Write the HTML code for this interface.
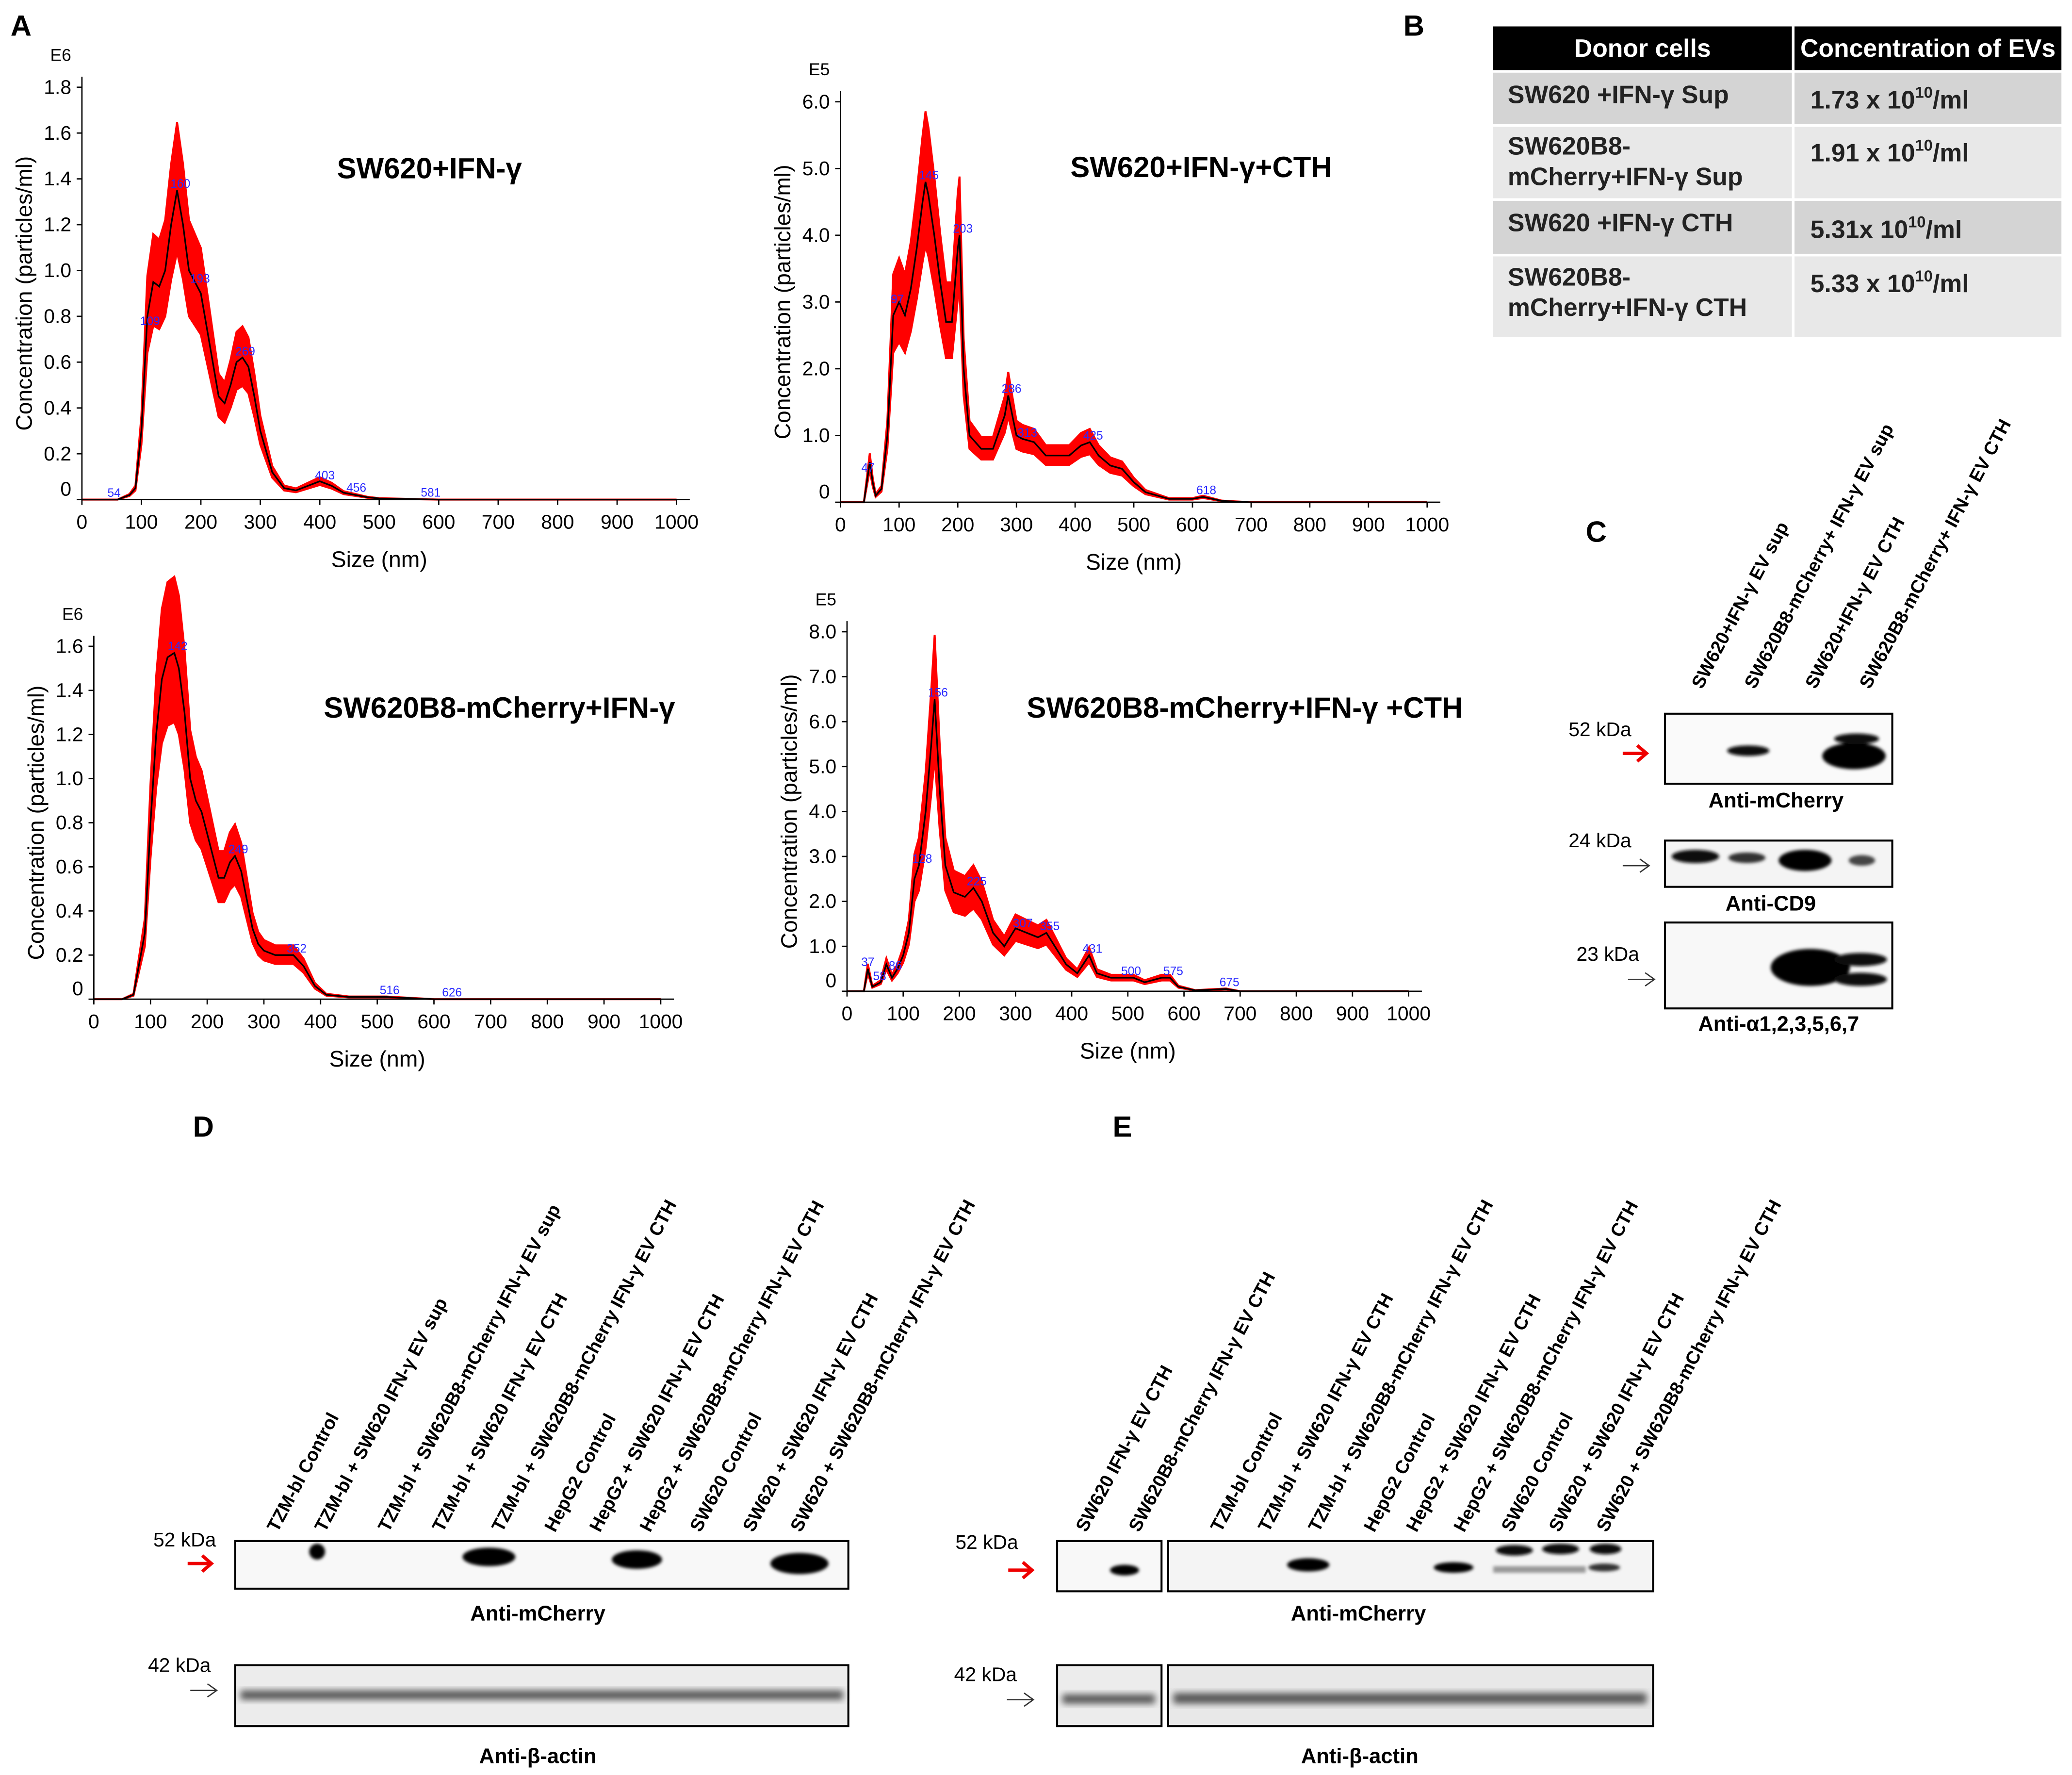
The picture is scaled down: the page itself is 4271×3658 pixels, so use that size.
<!DOCTYPE html>
<html><head><meta charset="utf-8"><style>
html,body{margin:0;padding:0;background:#fff;}
svg{display:block;font-family:"Liberation Sans",sans-serif;}
</style></head><body>
<svg id="fig" xmlns="http://www.w3.org/2000/svg" width="4271" height="3658" viewBox="0 0 1568 1343" preserveAspectRatio="none">
<defs>
<filter id="blur" x="-50%" y="-50%" width="200%" height="200%"><feGaussianBlur stdDeviation="2.5"/></filter>
<filter id="blur2" x="-50%" y="-50%" width="200%" height="200%"><feGaussianBlur stdDeviation="1.2"/></filter>
</defs>
<g id="charts"></g>
<text x="8" y="27" font-size="22" font-weight="bold">A</text>
<text x="1062" y="27" font-size="22" font-weight="bold">B</text>
<text x="1200" y="410" font-size="22" font-weight="bold">C</text>
<text x="146" y="860" font-size="22" font-weight="bold">D</text>
<text x="842" y="860" font-size="22" font-weight="bold">E</text>

<g font-weight="bold" font-size="19">
<rect x="1130" y="20" width="430" height="33" fill="#000"/>
<line x1="1357" y1="20" x2="1357" y2="53" stroke="#fff" stroke-width="2"/>
<text x="1243" y="43" fill="#fff" text-anchor="middle">Donor cells</text>
<text x="1459" y="43" fill="#fff" text-anchor="middle">Concentration of EVs</text>
<rect x="1130" y="55" width="226" height="39" fill="#d4d4d4"/><rect x="1358" y="55" width="202" height="39" fill="#d4d4d4"/>
<rect x="1130" y="96" width="226" height="54" fill="#e8e8e8"/><rect x="1358" y="96" width="202" height="54" fill="#e8e8e8"/>
<rect x="1130" y="152" width="226" height="40" fill="#d4d4d4"/><rect x="1358" y="152" width="202" height="40" fill="#d4d4d4"/>
<rect x="1130" y="194" width="226" height="61" fill="#e8e8e8"/><rect x="1358" y="194" width="202" height="61" fill="#e8e8e8"/>
<g fill="#222">
<text x="1141" y="78">SW620 +IFN-γ Sup</text>
<text x="1141" y="117">SW620B8-</text><text x="1141" y="140">mCherry+IFN-γ Sup</text>
<text x="1141" y="175">SW620 +IFN-γ  CTH</text>
<text x="1141" y="216">SW620B8-</text><text x="1141" y="239">mCherry+IFN-γ CTH</text>
<text x="1370" y="82">1.73 x 10<tspan font-size="12" dy="-8">10</tspan><tspan dy="8">/ml</tspan></text>
<text x="1370" y="122">1.91 x 10<tspan font-size="12" dy="-8">10</tspan><tspan dy="8">/ml</tspan></text>
<text x="1370" y="180">5.31x 10<tspan font-size="12" dy="-8">10</tspan><tspan dy="8">/ml</tspan></text>
<text x="1370" y="221">5.33 x 10<tspan font-size="12" dy="-8">10</tspan><tspan dy="8">/ml</tspan></text>
</g></g>

<g font-size="15">
<g font-weight="bold" font-size="14">
<text transform="translate(1288,522) rotate(-62)">SW620+IFN-γ EV sup</text>
<text transform="translate(1328,522) rotate(-62)">SW620B8-mCherry+ IFN-γ EV sup</text>
<text transform="translate(1374,522) rotate(-62)">SW620+IFN-γ EV CTH</text>
<text transform="translate(1415,522) rotate(-62)">SW620B8-mCherry+ IFN-γ EV CTH</text>
</g>
<text x="1187" y="557">52 kDa</text>
<text x="1187" y="641">24 kDa</text>
<text x="1193" y="727">23 kDa</text>
<path d="M1228,570 h18 m-7,-6 l7,6 l-7,6" stroke="#e00" stroke-width="2.5" fill="none"/>
<path d="M1228,655 h20 m-7,-5 l7,5 l-7,5" stroke="#333" stroke-width="1" fill="none"/>
<path d="M1232,741 h20 m-7,-5 l7,5 l-7,5" stroke="#333" stroke-width="1" fill="none"/>
<rect x="1260" y="540" width="172" height="53" fill="#fafafa" stroke="#000" stroke-width="1.5"/>
<g filter="url(#blur2)"><ellipse cx="1323" cy="568" rx="16" ry="4" fill="#111"/><ellipse cx="1403" cy="572" rx="24" ry="10" fill="#000"/><ellipse cx="1405" cy="559" rx="17" ry="4" fill="#111"/></g>
<rect x="1260" y="636" width="172" height="35" fill="#f4f4f4" stroke="#000" stroke-width="1.5"/>
<g filter="url(#blur2)"><ellipse cx="1283" cy="648" rx="18" ry="5" fill="#111"/><ellipse cx="1322" cy="649" rx="14" ry="4" fill="#333"/><ellipse cx="1366" cy="651" rx="20" ry="8" fill="#000"/><ellipse cx="1409" cy="651" rx="10" ry="4" fill="#444"/></g>
<rect x="1260" y="698" width="172" height="65" fill="#f8f8f8" stroke="#000" stroke-width="1.5"/>
<g filter="url(#blur2)"><ellipse cx="1370" cy="732" rx="30" ry="14" fill="#000"/><ellipse cx="1408" cy="726" rx="20" ry="5" fill="#111"/><ellipse cx="1408" cy="741" rx="20" ry="5" fill="#111"/></g>
<g font-weight="bold" font-size="16" text-anchor="middle">
<text x="1344" y="611">Anti-mCherry</text><text x="1340" y="689">Anti-CD9</text><text x="1346" y="780">Anti-α1,2,3,5,6,7</text></g>
</g>

<g font-size="15">
<g font-weight="bold" font-size="14">
<text transform="translate(210,1160) rotate(-62)">TZM-bl Control</text>
<text transform="translate(246,1160) rotate(-62)">TZM-bl + SW620 IFN-γ EV sup</text>
<text transform="translate(294,1160) rotate(-62)">TZM-bl + SW620B8-mCherry IFN-γ EV sup</text>
<text transform="translate(335,1160) rotate(-62)">TZM-bl + SW620 IFN-γ EV CTH</text>
<text transform="translate(380,1160) rotate(-62)">TZM-bl + SW620B8-mCherry IFN-γ EV CTH</text>
<text transform="translate(420,1160) rotate(-62)">HepG2 Control</text>
<text transform="translate(454,1160) rotate(-62)">HepG2 + SW620 IFN-γ EV CTH</text>
<text transform="translate(492,1160) rotate(-62)">HepG2 + SW620B8-mCherry IFN-γ EV CTH</text>
<text transform="translate(530,1160) rotate(-62)">SW620 Control</text>
<text transform="translate(570,1160) rotate(-62)">SW620 + SW620 IFN-γ EV CTH</text>
<text transform="translate(606,1160) rotate(-62)">SW620 + SW620B8-mCherry IFN-γ EV CTH</text>
</g>
<text x="116" y="1170">52 kDa</text><text x="112" y="1265">42 kDa</text>
<path d="M142,1183 h18 m-7,-6 l7,6 l-7,6" stroke="#e00" stroke-width="2.5" fill="none"/>
<path d="M144,1279 h20 m-7,-5 l7,5 l-7,5" stroke="#333" stroke-width="1" fill="none"/>
<rect x="178" y="1166" width="464" height="36" fill="#f8f8f8" stroke="#000" stroke-width="1.5"/>
<g filter="url(#blur2)"><ellipse cx="240" cy="1174" rx="6" ry="6" fill="#000"/><ellipse cx="370" cy="1178" rx="20" ry="7" fill="#000"/><ellipse cx="482" cy="1180" rx="19" ry="7" fill="#000"/><ellipse cx="605" cy="1183" rx="22" ry="8" fill="#000"/></g>
<rect x="178" y="1260" width="464" height="46" fill="#ececec" stroke="#000" stroke-width="1.5"/>
<rect x="182" y="1279" width="456" height="7" fill="#555" filter="url(#blur)"/>
<g font-weight="bold" font-size="16" text-anchor="middle"><text x="407" y="1226">Anti-mCherry</text><text x="407" y="1334">Anti-β-actin</text></g>
</g>

<g font-size="15">
<g font-weight="bold" font-size="14">
<text transform="translate(822,1160) rotate(-62)">SW620 IFN-γ EV CTH</text>
<text transform="translate(862,1160) rotate(-62)">SW620B8-mCherry IFN-γ EV CTH</text>
<text transform="translate(924,1160) rotate(-62)">TZM-bl Control</text>
<text transform="translate(960,1160) rotate(-62)">TZM-bl + SW620 IFN-γ EV CTH</text>
<text transform="translate(998,1160) rotate(-62)">TZM-bl + SW620B8-mCherry IFN-γ EV CTH</text>
<text transform="translate(1040,1160) rotate(-62)">HepG2 Control</text>
<text transform="translate(1072,1160) rotate(-62)">HepG2 + SW620 IFN-γ EV CTH</text>
<text transform="translate(1108,1160) rotate(-62)">HepG2 + SW620B8-mCherry IFN-γ EV CTH</text>
<text transform="translate(1144,1160) rotate(-62)">SW620 Control</text>
<text transform="translate(1180,1160) rotate(-62)">SW620 + SW620 IFN-γ EV CTH</text>
<text transform="translate(1216,1160) rotate(-62)">SW620 + SW620B8-mCherry IFN-γ EV CTH</text>
</g>
<text x="723" y="1172">52 kDa</text><text x="722" y="1272">42 kDa</text>
<path d="M763,1188 h18 m-7,-6 l7,6 l-7,6" stroke="#e00" stroke-width="2.5" fill="none"/>
<path d="M762,1286 h20 m-7,-5 l7,5 l-7,5" stroke="#333" stroke-width="1" fill="none"/>
<rect x="800" y="1166" width="79" height="38" fill="#f8f8f8" stroke="#000" stroke-width="1.5"/>
<rect x="884" y="1166" width="367" height="38" fill="#f4f4f4" stroke="#000" stroke-width="1.5"/>
<g filter="url(#blur2)"><ellipse cx="851" cy="1188" rx="11" ry="4" fill="#000"/><ellipse cx="990" cy="1184" rx="16" ry="5" fill="#000"/><ellipse cx="1100" cy="1186" rx="15" ry="4" fill="#000"/>
<ellipse cx="1146" cy="1173" rx="14" ry="4" fill="#111"/><ellipse cx="1181" cy="1172" rx="14" ry="4" fill="#111"/><ellipse cx="1215" cy="1172" rx="12" ry="4" fill="#111"/><ellipse cx="1214" cy="1186" rx="12" ry="3" fill="#333"/><rect x="1130" y="1185" width="70" height="5" fill="#999"/></g>
<rect x="800" y="1260" width="79" height="46" fill="#ececec" stroke="#000" stroke-width="1.5"/>
<rect x="884" y="1260" width="367" height="46" fill="#e8e8e8" stroke="#000" stroke-width="1.5"/>
<rect x="804" y="1282" width="70" height="7" fill="#555" filter="url(#blur)"/>
<rect x="888" y="1281" width="358" height="8" fill="#555" filter="url(#blur)"/>
<g font-weight="bold" font-size="16" text-anchor="middle"><text x="1028" y="1226">Anti-mCherry</text><text x="1029" y="1334">Anti-β-actin</text></g>
</g>
</svg>
<script>
const sizes1 = [0,60,70,80,90,100,110,120,130,140,150,160,170,180,190,200,210,220,230,240,250,260,270,280,290,300,320,340,360,380,400,420,440,460,480,500,600,1000];
const conc1  = [0,0,0.01,0.02,0.05,0.3,0.8,0.95,0.93,1.0,1.2,1.35,1.2,1.0,0.95,0.9,0.75,0.6,0.45,0.42,0.5,0.6,0.62,0.58,0.45,0.3,0.12,0.05,0.04,0.06,0.08,0.06,0.03,0.02,0.01,0.005,0,0];
const peaks1 = [54,109,160,193,269,403,456,581];
const sizes2 = [0,40,50,55,60,70,80,90,100,110,120,130,140,145,150,160,170,180,190,200,203,210,220,240,260,280,286,300,310,330,350,370,390,410,425,440,460,480,500,520,560,600,618,650,700,1000];
const conc2  = [0,0,0.6,0.3,0.1,0.2,1.0,2.8,3.0,2.8,3.2,3.8,4.5,4.8,4.6,4.0,3.3,2.7,2.7,3.8,4.0,2.0,1.0,0.8,0.8,1.3,1.6,1.0,0.95,0.9,0.7,0.7,0.7,0.85,0.9,0.7,0.55,0.5,0.3,0.15,0.05,0.05,0.08,0.02,0,0];
const peaks2 = [47,97,145,203,286,313,425,618];
const sizes3 = [0,50,70,90,100,110,120,130,142,150,160,170,180,190,200,210,220,230,240,249,260,270,280,290,300,320,340,352,370,390,410,450,516,600,1000];
const conc3  = [0,0,0.02,0.3,0.8,1.2,1.45,1.55,1.57,1.5,1.3,1.0,0.9,0.85,0.75,0.65,0.55,0.55,0.62,0.65,0.58,0.45,0.32,0.25,0.22,0.2,0.2,0.2,0.15,0.06,0.02,0.01,0.01,0,0];
const peaks3 = [142,249,352,516,626];
const sizes4 = [0,30,37,45,60,70,80,90,100,110,120,128,140,150,156,165,175,190,210,225,240,260,280,300,320,340,355,370,390,410,431,445,470,490,510,530,560,575,590,620,675,700,1000];
const conc4  = [0,0,0.5,0.1,0.2,0.6,0.3,0.5,0.8,1.3,2.5,2.8,4.0,5.5,6.5,4.5,2.8,2.2,2.1,2.3,2.0,1.3,1.0,1.4,1.3,1.2,1.3,1.0,0.6,0.4,0.8,0.4,0.3,0.3,0.3,0.2,0.3,0.3,0.1,0.02,0.05,0,0];
const peaks4 = [37,58,86,128,156,225,307,355,431,500,575,675];

const yTicks1 = ["0","0.2","0.4","0.6","0.8","1.0","1.2","1.4","1.6","1.8"];
const yTicks2 = ["0","1.0","2.0","3.0","4.0","5.0","6.0"];
const yTicks3 = ["0","0.2","0.4","0.6","0.8","1.0","1.2","1.4","1.6"];
const yTicks4 = ["0","1.0","2.0","3.0","4.0","5.0","6.0","7.0","8.0"];
const xTicks = ["0","100","200","300","400","500","600","700","800","900","1000"];

const NS = "http://www.w3.org/2000/svg";
const root = document.getElementById("charts");
function mk(tag, attrs, parent){const e=document.createElementNS(NS,tag);for(const k in attrs)e.setAttribute(k,attrs[k]);parent.appendChild(e);return e;}
function interp(xs,ys,x){for(let i=1;i<xs.length;i++){if(x<=xs[i]){const t=(x-xs[i-1])/(xs[i]-xs[i-1]||1);return ys[i-1]+t*(ys[i]-ys[i-1]);}}return ys[ys.length-1];}

function chart(cfg){
  const g=mk("g",{},root);
  
  
  const X=v=>cfg.x0+(cfg.x1-cfg.x0)*v/1000;
  const Y=v=>cfg.y0-(cfg.y0-cfg.yTop)*v/cfg.ymax;
  let up="",lo="";
  for(let i=0;i<cfg.sizes.length;i++){up+=(i?"L":"M")+X(cfg.sizes[i])+","+Y(cfg.conc[i]*1.22);}
  for(let i=cfg.sizes.length-1;i>=0;i--){lo+="L"+X(cfg.sizes[i])+","+Y(cfg.conc[i]*0.8);}
  const band=mk("path",{d:up+lo+"Z",fill:"#f00",stroke:"#f00","stroke-width":"1.5"},g);
  
  
  let d="";for(let i=0;i<cfg.sizes.length;i++){d+=(i?"L":"M")+X(cfg.sizes[i])+","+Y(cfg.conc[i]);}
  const line=mk("path",{d:d,fill:"none",stroke:"#000","stroke-width":"1.2"},g);
  
  
  cfg.peaks.forEach(p=>{const t=mk("text",{x:X(p)-5,y:Y(interp(cfg.sizes,cfg.conc,p))-2,"font-size":"9",fill:"#2a2aff"},g);t.textContent=p;
    
    });
  mk("line",{x1:cfg.x0,y1:cfg.y0,x2:cfg.x1+10,y2:cfg.y0,stroke:"#000","stroke-width":"1"},g);
  mk("line",{x1:cfg.x0,y1:cfg.y0,x2:cfg.x0,y2:cfg.yTop-8,stroke:"#000","stroke-width":"1"},g);
  xTicks.forEach((t,i)=>{const x=X(i*100);mk("line",{x1:x,y1:cfg.y0,x2:x,y2:cfg.y0+4,stroke:"#000"},g);
    const tx=mk("text",{x:x,y:cfg.y0+22,"font-size":"15","text-anchor":"middle"},g);tx.textContent=t;
    
    });
  const step=cfg.ymax/(cfg.yticks.length-1);
  cfg.yticks.forEach((t,i)=>{const y=Y(i*step);mk("line",{x1:cfg.x0-4,y1:y,x2:cfg.x0,y2:y,stroke:"#000"},g);
    const ty=mk("text",{x:cfg.x0-8,y:y+(i==0?-3:5),"font-size":"15","text-anchor":"end"},g);ty.textContent=t;
    
    });
  const ex=mk("text",{x:cfg.x0-24,y:cfg.yTop-20,"font-size":"13"},g);ex.textContent=cfg.exp;
  
  
  const xt=mk("text",{x:(cfg.x0+cfg.x1)/2,y:cfg.y0+51,"font-size":"17","text-anchor":"middle"},g);xt.textContent="Size (nm)";
  
  
  const yt=mk("text",{transform:`translate(${cfg.x0-38},${(cfg.y0+cfg.yTop)/2}) rotate(-90)`,"font-size":"17","text-anchor":"middle"},g);yt.textContent="Concentration (particles/ml)";
  
  
  const ti=mk("text",{x:cfg.tx,y:cfg.ty,"font-size":"22","font-weight":"bold"},g);ti.textContent=cfg.title;
  
  
}
chart({name:"nta-chart-sw620-ifn",sizes:sizes1,conc:conc1,peaks:peaks1,x0:62,x1:512,y0:378,yTop:66,ymax:1.8,yticks:yTicks1,exp:"E6",title:"SW620+IFN-γ",tx:255,ty:135});
chart({name:"nta-chart-sw620-ifn-cth",sizes:sizes2,conc:conc2,peaks:peaks2,x0:636,x1:1080,y0:380,yTop:77,ymax:6.0,yticks:yTicks2,exp:"E5",title:"SW620+IFN-γ+CTH",tx:810,ty:134});
chart({name:"nta-chart-sw620b8-ifn",sizes:sizes3,conc:conc3,peaks:peaks3,x0:71,x1:500,y0:756,yTop:489,ymax:1.6,yticks:yTicks3,exp:"E6",title:"SW620B8-mCherry+IFN-γ",tx:245,ty:543});
chart({name:"nta-chart-sw620b8-ifn-cth",sizes:sizes4,conc:conc4,peaks:peaks4,x0:641,x1:1066,y0:750,yTop:478,ymax:8.0,yticks:yTicks4,exp:"E5",title:"SW620B8-mCherry+IFN-γ +CTH",tx:777,ty:543});
</script>
</body></html>
